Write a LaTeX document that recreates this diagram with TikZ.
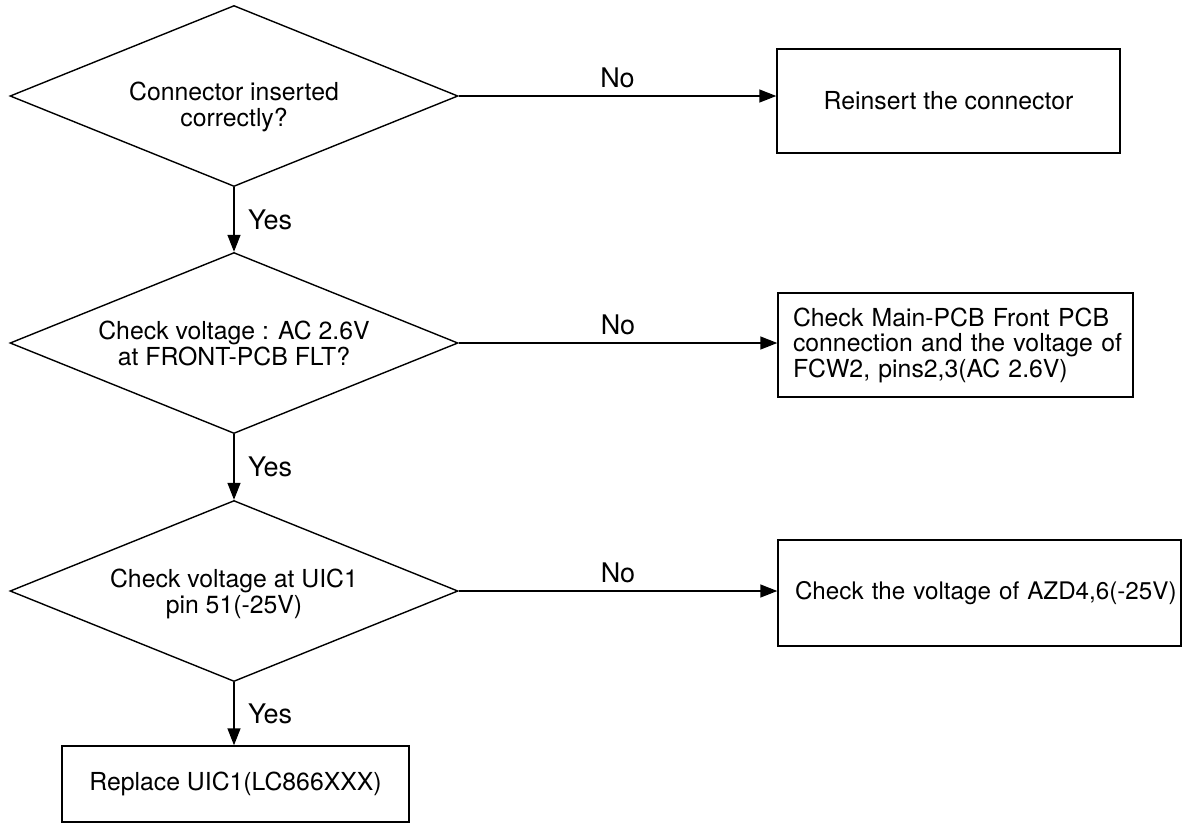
\documentclass[tikz,border=0pt]{standalone}
\usepackage{fontspec}
\setmainfont{TeX Gyre Heros}
\usetikzlibrary{shapes.geometric,arrows.meta}

\begin{document}
\begin{tikzpicture}[x=1pt,y=-1pt,line width=1.4pt,
        every node/.style={font=\fontsize{24.8}{25.5}\selectfont},
        decision/.style={draw,diamond,aspect=2.475,minimum width=448pt,minimum height=181pt,inner sep=0pt,align=center,text depth=0pt},
        action/.style={draw,rectangle,inner sep=0pt},
        flow/.style={-{Triangle[length=17pt,width=13pt]}},
        answer/.style={font=\fontsize{27}{28}\selectfont}]
        \useasboundingbox (0,0) rectangle (1187,823);

        \node[decision,text height=60pt] (Q1) at (234,96) {Connector inserted\\correctly?};
        \node[decision] (Q2) at (234,343) {Check voltage : AC 2.6V\\at FRONT-PCB FLT?};
        \node[decision] (Q3) at (234,591) {Check voltage at UIC1\\pin 51(-25V)};

        \node[action,minimum width=343pt,minimum height=104pt] (R1) at (948.5,101) {Reinsert the connector};
        \node[action,minimum width=355pt,minimum height=104pt,text width=325pt,align=left] (R2) at (955.5,345) {Check Main-PCB Front PCB\\\mbox{connection and the voltage of}\\FCW2, pins2,3(AC 2.6V)};
        \node[action,minimum width=403pt,minimum height=106pt,text width=369pt,align=left,font=\fontsize{24.2}{25.5}\selectfont] (R3) at (979.5,593) {\mbox{Check the voltage of AZD4,6(-25V)}};
        \node[action,minimum width=347pt,minimum height=76pt] (R4) at (235.5,784) {Replace UIC1(LC866XXX)};

        \draw[flow] (Q1.east) -- node[answer,above,yshift=4pt] {No} (Q1.east -| R1.west);
        \draw[flow] (Q2.east) -- node[answer,above,yshift=4pt] {No} (Q2.east -| R2.west);
        \draw[flow] (Q3.east) -- node[answer,above,yshift=4pt] {No} (Q3.east -| R3.west);

        \draw[flow] (Q1.south) -- node[answer,right,xshift=10pt] {Yes} (Q2.north);
        \draw[flow] (Q2.south) -- node[answer,right,xshift=10pt] {Yes} (Q3.north);
        \draw[flow] (Q3.south) -- node[answer,right,xshift=10pt] {Yes} (Q3.south |- R4.north);
\end{tikzpicture}
\end{document}
